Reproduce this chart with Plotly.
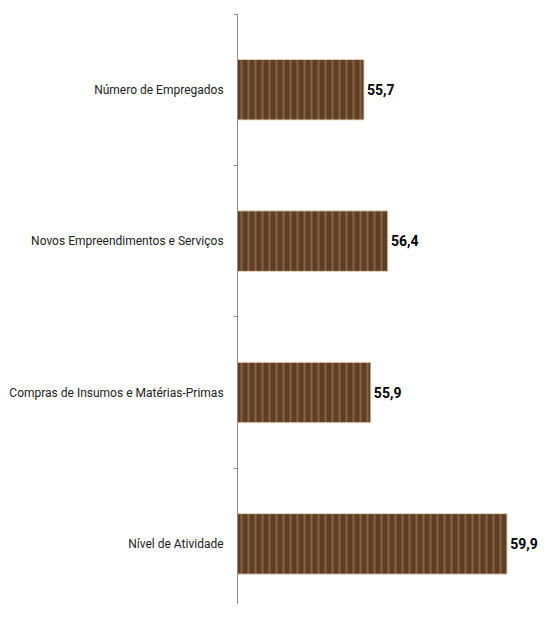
import plotly.graph_objects as go

categories = ["Número de Empregados", "Novos Empreendimentos e Serviços",
              "Compras de Insumos e Matérias-Primas", "Nível de Atividade"]
values = [55.7, 56.4, 55.9, 59.9]

FONT = "Roboto, sans-serif"

fig = go.Figure(go.Bar(
    y=categories, x=values, orientation="h",
    marker=dict(color="#5e3e24",
                line=dict(color="#ead8c4", width=1),
                pattern=dict(shape="|", fgcolor="#b08660", fgopacity=0.5,
                             size=7, solidity=0.3)),
    texttemplate="%{x:.1f}", textposition="outside", constraintext="none",
    cliponaxis=False,
    textfont=dict(family=FONT, size=14, color="#000000", weight="bold"),
))

# page body has an 8px margin, so the figure is placed at (8, 8)
fig.update_layout(
    width=540, height=596,
    margin=dict(l=230, r=0, t=6, b=0, autoexpand=False),
    paper_bgcolor="white", plot_bgcolor="white",
    separators=",.",
    bargap=0.6,
    showlegend=False,
    font=dict(family=FONT, size=12, color="#222222"),
)
fig.update_xaxes(range=[52, 61.1], visible=False)
fig.update_yaxes(categoryorder="array", categoryarray=categories, range=[3.397, -0.5],
                 automargin=False,
                 showline=True, linecolor="#8c8c8c", linewidth=1,
                 ticks="outside", tickson="boundaries", ticklen=3, tickcolor="#8c8c8c",
                 ticklabelstandoff=11, showgrid=False, zeroline=False)

fig.write_html("out.html")
